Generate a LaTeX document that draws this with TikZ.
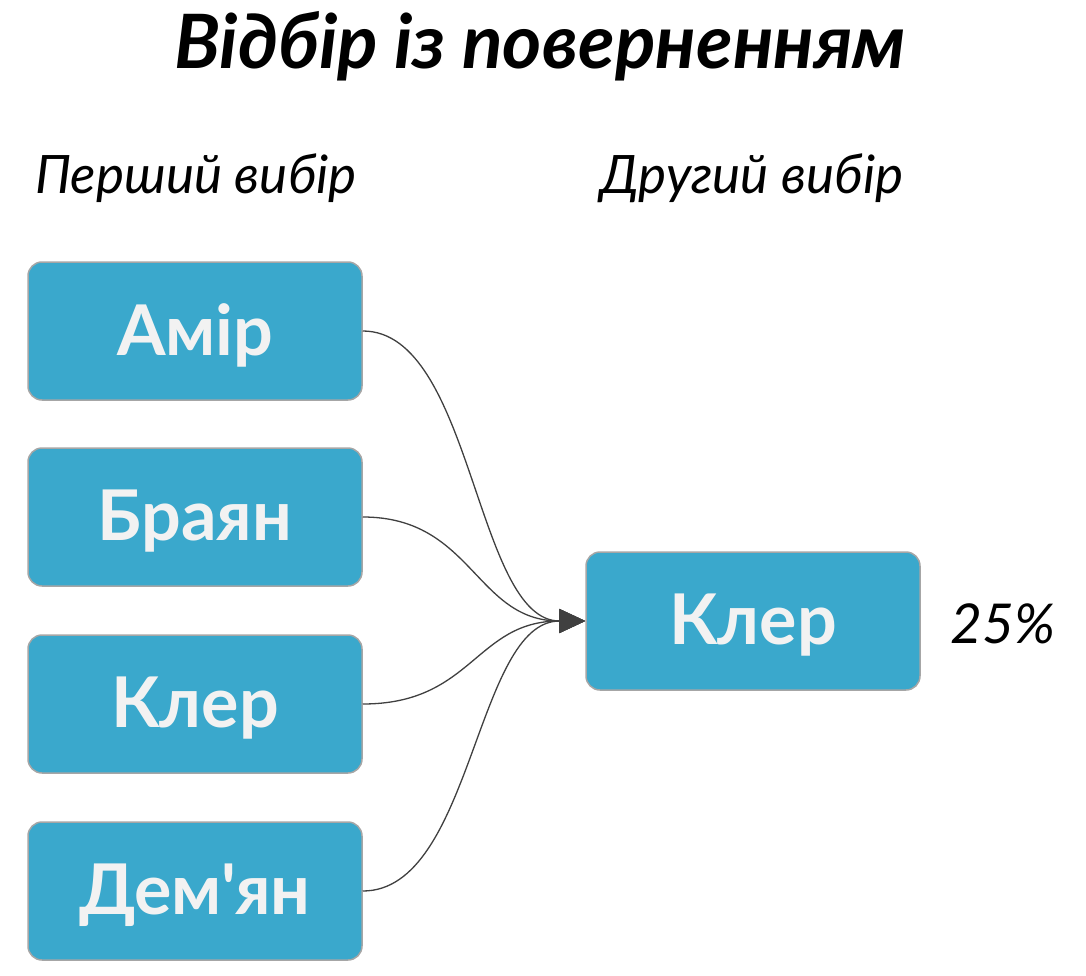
\documentclass[tikz,border=0pt]{standalone}
\usepackage{fontspec}
\setmainfont{Lato}
\newfontfamily\plainlato{Lato}
\usetikzlibrary{arrows.meta}
\definecolor{boxc}{HTML}{3AA8CC}
\begin{document}
\begin{tikzpicture}[x=1pt,y=-1pt,
  box/.style={draw=gray!70,line width=1.5pt,fill=boxc,rounded corners=14pt,minimum width=334pt,minimum height=138pt},
  txt/.style={font=\fontsize{70}{74}\selectfont\bfseries,text=white!95!black},
  lab/.style={font=\fontsize{53}{56}\selectfont\itshape},
  conn/.style={draw=black!75,line width=1.3pt,-{Triangle[length=26pt,width=24pt]}}]
\useasboundingbox (0,0) rectangle (1086,976);
\node[font=\fontsize{75}{80}\selectfont\bfseries\itshape] (t) at (540,46) {Відбір із поверненням};
\node[lab] (l1) at (196,178) {Перший вибір};
\node[lab] (l2) at (752,178) {Другий вибір};
\node[box] (a) at (195,331) {};
\node[box] (b) at (195,517) {};
\node[box] (c) at (195,704) {};
\node[box] (d) at (195,891) {};
\node[box] (k) at (753,621) {};
\node[txt] (ta) at (195,335) {Амір};
\node[txt] (tb) at (195,521) {Браян};
\node[txt] (tc) at (195,708) {Клер};
\node[txt,font=\fontsize{70}{74}\plainlato\selectfont\bfseries] (td) at (195,895) {Дем'ян};
\node[txt] (tk) at (753,625) {Клер};
\node[font=\fontsize{55}{58}\selectfont\itshape] (p) at (1003,624) {25\%};
\foreach \n in {a,b,c,d}
  \draw[conn] (\n.east) .. controls ++(110,0) and ++(-110,0) .. (k.west);
\end{tikzpicture}
\end{document}
